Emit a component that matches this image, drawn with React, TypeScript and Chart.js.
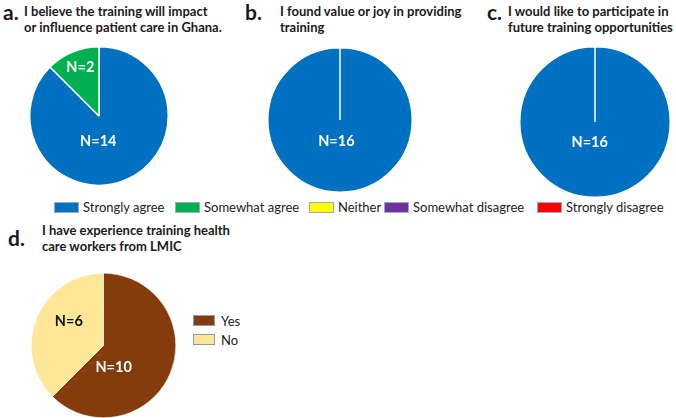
import React, { useEffect, useRef } from "react";
import { Chart, registerables } from "chart.js";

Chart.register(...registerables);

const responseCategories = ["Strongly agree", "Somewhat agree", "Neither", "Somewhat disagree", "Strongly disagree"];
const responseColors = ["#0070C0", "#00B050", "#FFFF00", "#7030A0", "#FF0000"];
const impactValues = [14, 2, 0, 0, 0];
const valueJoyValues = [16, 0, 0, 0, 0];
const futureValues = [16, 0, 0, 0, 0];

const experienceCategories = ["Yes", "No"];
const experienceColors = ["#843C0C", "#FFE699"];
const experienceValues = [10, 6];

const FONT = "Lato, 'Open Sans', sans-serif";

type LabelSpec = { i: number; dx: number; dy: number; color: string };

const labelPlugin = {
  id: "nLabels",
  afterDatasetsDraw(chart: any) {
    const specs: LabelSpec[] = chart.options.plugins.nLabels?.labels || [];
    const meta = chart.getDatasetMeta(0);
    const arc0 = meta.data[0];
    if (!arc0) return;
    const { x, y, outerRadius } = arc0.getProps(["x", "y", "outerRadius"], true);
    const ctx = chart.ctx;
    ctx.save();
    ctx.font = `bold 14.5px ${FONT}`;
    ctx.textAlign = "center";
    ctx.textBaseline = "middle";
    specs.forEach((s) => {
      const v = chart.data.datasets[0].data[s.i];
      ctx.fillStyle = s.color;
      ctx.fillText(`N=${v}`, x + s.dx * outerRadius, y + s.dy * outerRadius);
    });
    ctx.restore();
  },
};

function Pie(props: {
  labels: string[];
  values: number[];
  colors: string[];
  size: number;
  left: number;
  top: number;
  border: number;
  nLabels: LabelSpec[];
}) {
  const ref = useRef<HTMLCanvasElement>(null);
  useEffect(() => {
    const chart = new Chart(ref.current!, {
      type: "pie",
      data: {
        labels: props.labels,
        datasets: [
          {
            data: props.values,
            backgroundColor: props.colors,
            borderColor: "#ffffff",
            borderWidth: props.border,
          },
        ],
      },
      options: {
        responsive: false,
        animation: false,
        layout: { padding: 0 },
        plugins: {
          legend: { display: false },
          tooltip: { enabled: false },
          nLabels: { labels: props.nLabels },
        } as any,
      },
      plugins: [labelPlugin],
    });
    return () => chart.destroy();
  }, []);
  return (
    <canvas
      ref={ref}
      width={props.size}
      height={props.size}
      style={{ position: "absolute", left: props.left, top: props.top, width: props.size, height: props.size }}
    />
  );
}

const titleStyle: React.CSSProperties = {
  position: "absolute",
  font: `bold 13px ${FONT}`,
  lineHeight: "16px",
  color: "#1a1a1a",
  whiteSpace: "nowrap",
};
const letterStyle: React.CSSProperties = {
  position: "absolute",
  font: `bold 21px ${FONT}`,
  color: "#1a1a1a",
};

export default function App() {
  return (
    <div style={{ position: "absolute", left: 0, top: 0, width: 676, height: 418, background: "#fff", overflow: "hidden" }}>
      <div style={{ ...letterStyle, left: 3, top: -1 }}>a.</div>
      <div style={{ ...titleStyle, left: 24, top: 3 }}>
        I believe the training will impact
        <br />
        or influence patient care in Ghana.
      </div>
      <div style={{ ...letterStyle, left: 245, top: -1 }}>b.</div>
      <div style={{ ...titleStyle, left: 280, top: 3 }}>
        I found value or joy in providing
        <br />
        training
      </div>
      <div style={{ ...letterStyle, left: 487, top: -1 }}>c.</div>
      <div style={{ ...titleStyle, left: 508, top: 3 }}>
        I would like to participate in
        <br />
        future training opportunities
      </div>

      <Pie labels={responseCategories} values={impactValues} colors={responseColors} size={140} left={29} top={46} border={1.5}
        nLabels={[{ i: 0, dx: -0.01, dy: 0.36, color: "#fff" }, { i: 1, dx: -0.27, dy: -0.71, color: "#fff" }]} />
      <Pie labels={responseCategories} values={valueJoyValues} colors={responseColors} size={146} left={267} top={47} border={1.5}
        nLabels={[{ i: 0, dx: -0.05, dy: 0.3, color: "#fff" }]} />
      <Pie labels={responseCategories} values={futureValues} colors={responseColors} size={152} left={519} top={46} border={1.5}
        nLabels={[{ i: 0, dx: -0.07, dy: 0.27, color: "#fff" }]} />

      <div style={{ position: "absolute", left: 0, top: 198, width: 676, height: 18, font: `13px ${FONT}`, color: "#222" }}>
        {responseCategories.map((c, i) => {
          const lefts = [54, 175, 309, 384, 537];
          return (
            <div key={c} style={{ position: "absolute", left: lefts[i], top: 0, display: "flex", alignItems: "center", height: 18 }}>
              <span style={{ display: "inline-block", width: 23, height: 9, background: responseColors[i], border: "1px solid #9ab", marginRight: 4 }} />
              <span>{c}</span>
            </div>
          );
        })}
      </div>

      <div style={{ ...letterStyle, left: 8, top: 225 }}>d.</div>
      <div style={{ ...titleStyle, left: 42, top: 222 }}>
        I have experience training health
        <br />
        care workers from LMIC
      </div>
      <Pie labels={experienceCategories} values={experienceValues} colors={experienceColors} size={145} left={31} top={273} border={0.5}
        nLabels={[{ i: 1, dx: -0.48, dy: -0.33, color: "#111" }, { i: 0, dx: 0.14, dy: 0.3, color: "#fff" }]} />

      <div style={{ position: "absolute", left: 193, top: 311, font: `13px ${FONT}`, color: "#222" }}>
        {experienceCategories.map((c, i) => (
          <div key={c} style={{ display: "flex", alignItems: "center", height: 19 }}>
            <span style={{ display: "inline-block", width: 20, height: 9, background: experienceColors[i], border: "1px solid #8a9bb0", marginRight: 6 }} />
            <span>{c}</span>
          </div>
        ))}
      </div>
    </div>
  );
}
